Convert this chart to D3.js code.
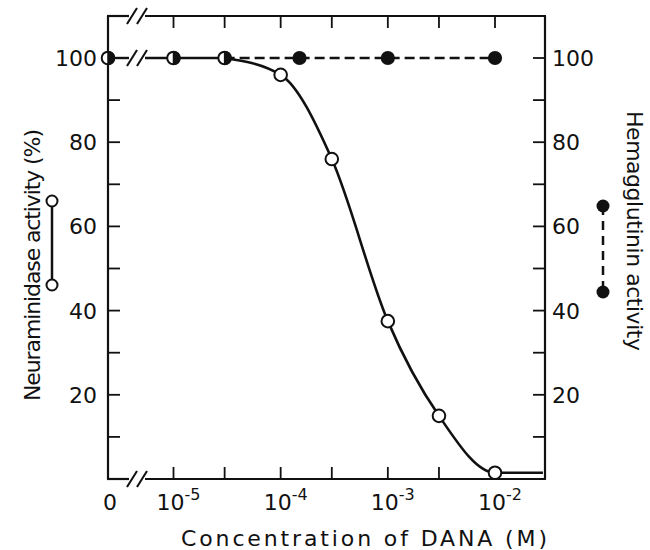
<!DOCTYPE html>
<html>
<head>
<meta charset="utf-8">
<script src="https://cdn.jsdelivr.net/npm/d3@7/dist/d3.min.js"></script>
<style>
  html, body { margin: 0; padding: 0; background: #fff; }
  svg { display: block; }
  text { font-family: "DejaVu Sans", "Liberation Sans", Arial, sans-serif; fill: #111; }
</style>
</head>
<body>
<svg id="chart" width="650" height="550"></svg>
<script>
// ---- Data ----
const neuraConc = [0, 1e-5, 3e-5, 1e-4, 3e-4, 1e-3, 3e-3, 1e-2];
const neuraActivity = [100, 100, 100, 96, 76, 37.5, 15, 1.5];
const neuraTailConc = 2.8e-2;           // end of horizontal tail of the fitted curve
const hemaConc = [0, 1e-5, 3e-5, 1.5e-4, 1e-3, 1e-2];
const hemaActivity = [100, 100, 100, 100, 100, 100];
const xTickConc = [1e-5, 3e-5, 1e-4, 3e-4, 1e-3, 3e-3, 1e-2];
const xLabelConc = [1e-5, 1e-4, 1e-3, 1e-2];
const xLabelExp = ["-5", "-4", "-3", "-2"];
const yTicks = [10, 20, 30, 40, 50, 60, 70, 80, 90, 100];
const yLabels = [20, 40, 60, 80, 100];

// ---- Layout ----
const frame = { left: 108, right: 545, top: 16, bottom: 479 };
const breakX = 137;
const ink = "#111";

const svg = d3.select("#chart");
const xLog = d3.scaleLog().domain([1e-5, 1e-2]).range([173.5, 495]);
const x = c => (c === 0 ? frame.left : xLog(c));
const y = d3.scaleLinear().domain([0, 100]).range([frame.bottom, 58]);

const g = svg.append("g");

// ---- Frame with axis breaks ----
function hline(yy, x1, x2) {
  g.append("line").attr("x1", x1).attr("x2", x2).attr("y1", yy).attr("y2", yy)
    .attr("stroke", ink).attr("stroke-width", 2.2);
}
function slashes(cx, cy) {
  [-5, 5].forEach(dx => {
    g.append("line")
      .attr("x1", cx + dx - 5).attr("y1", cy + 8)
      .attr("x2", cx + dx + 5).attr("y2", cy - 8)
      .attr("stroke", ink).attr("stroke-width", 2);
  });
}
hline(frame.top, frame.left - 1, breakX - 8);
hline(frame.top, breakX + 8, frame.right + 1);
hline(frame.bottom, frame.left - 1, breakX - 8);
hline(frame.bottom, breakX + 8, frame.right + 1);
slashes(breakX, frame.top);
slashes(breakX, frame.bottom);
g.append("line").attr("x1", frame.left).attr("x2", frame.left)
  .attr("y1", frame.top).attr("y2", frame.bottom).attr("stroke", ink).attr("stroke-width", 2.2);
g.append("line").attr("x1", frame.right).attr("x2", frame.right)
  .attr("y1", frame.top).attr("y2", frame.bottom).attr("stroke", ink).attr("stroke-width", 2.2);

// ---- Ticks (inward) ----
const tickLen = 12;
xTickConc.forEach(c => {
  g.append("line").attr("x1", xLog(c)).attr("x2", xLog(c))
    .attr("y1", frame.top).attr("y2", frame.top + tickLen).attr("stroke", ink).attr("stroke-width", 1.8);
  g.append("line").attr("x1", xLog(c)).attr("x2", xLog(c))
    .attr("y1", frame.bottom).attr("y2", frame.bottom - tickLen).attr("stroke", ink).attr("stroke-width", 1.8);
});
yTicks.forEach(v => {
  g.append("line").attr("x1", frame.left).attr("x2", frame.left + tickLen)
    .attr("y1", y(v)).attr("y2", y(v)).attr("stroke", ink).attr("stroke-width", 1.8);
  g.append("line").attr("x1", frame.right).attr("x2", frame.right - tickLen)
    .attr("y1", y(v)).attr("y2", y(v)).attr("stroke", ink).attr("stroke-width", 1.8);
});

// ---- Tick labels ----
yLabels.forEach(v => {
  g.append("text").attr("x", frame.left - 11).attr("y", y(v)).attr("dy", "0.36em")
    .attr("text-anchor", "end").attr("font-size", 22).text(v);
  g.append("text").attr("x", frame.right + 7).attr("y", y(v)).attr("dy", "0.36em")
    .attr("text-anchor", "start").attr("font-size", 22).text(v);
});
g.append("text").attr("x", frame.left + 2).attr("y", 510).attr("text-anchor", "middle")
  .attr("font-size", 22).text("0");
xLabelConc.forEach((c, i) => {
  const t = g.append("text").attr("x", xLog(c) - 17).attr("y", 510)
    .attr("text-anchor", "start").attr("font-size", 22);
  t.append("tspan").text("10");
  t.append("tspan").attr("dy", -10).attr("font-size", 16).text(xLabelExp[i]);
});

// ---- Axis titles ----
g.append("text").attr("x", 364).attr("y", 546).attr("text-anchor", "middle")
  .attr("font-size", 22).attr("textLength", 366).attr("lengthAdjust", "spacing")
  .text("Concentration of DANA (M)");
g.append("text").attr("transform", "translate(40,265) rotate(-90)")
  .attr("text-anchor", "middle").attr("font-size", 22)
  .attr("textLength", 272).attr("lengthAdjust", "spacing")
  .text("Neuraminidase activity (%)");
g.append("text").attr("transform", "translate(627,231) rotate(90)")
  .attr("text-anchor", "middle").attr("font-size", 22)
  .attr("textLength", 240).attr("lengthAdjust", "spacing")
  .text("Hemagglutinin activity");

// ---- Lines ----
const nPts = neuraConc.map((c, i) => [x(c), y(neuraActivity[i])]);
const hPts = hemaConc.map((c, i) => [x(c), y(hemaActivity[i])]);

// shared solid segment 0 -> 1e-5 (with break) -> 3e-5
g.append("line").attr("x1", nPts[0][0]).attr("y1", nPts[0][1])
  .attr("x2", breakX - 8).attr("y2", nPts[0][1]).attr("stroke", ink).attr("stroke-width", 2.4);
g.append("line").attr("x1", breakX + 8).attr("y1", nPts[0][1])
  .attr("x2", nPts[2][0]).attr("y2", nPts[2][1]).attr("stroke", ink).attr("stroke-width", 2.4);
slashes(breakX, nPts[0][1]);

// neuraminidase fitted curve from 3e-5 onwards, then horizontal tail
const curvePts = nPts.slice(2).concat([[xLog(neuraTailConc), y(neuraActivity[neuraActivity.length - 1])]]);
g.append("path").attr("d", d3.line().curve(d3.curveMonotoneX)(curvePts))
  .attr("fill", "none").attr("stroke", ink).attr("stroke-width", 2.6);

// hemagglutinin dashed line from 3e-5 onwards
g.append("path").attr("d", d3.line()(hPts.slice(2)))
  .attr("fill", "none").attr("stroke", ink).attr("stroke-width", 2.6)
  .attr("stroke-dasharray", "10,5");

// ---- Markers ----
const r = 6.3;
g.selectAll("circle.n").data(nPts).enter().append("circle")
  .attr("cx", d => d[0]).attr("cy", d => d[1]).attr("r", r)
  .attr("fill", "#fff").attr("stroke", ink).attr("stroke-width", 2);

const coincide = (c, v) => neuraConc.some((nc, i) => nc === c && neuraActivity[i] === v);
hemaConc.forEach((c, i) => {
  const cx = x(c), cy = y(hemaActivity[i]);
  if (coincide(c, hemaActivity[i])) {
    g.append("path")
      .attr("d", `M${cx},${cy - r} A${r},${r} 0 0 1 ${cx},${cy + r} Z`)
      .attr("fill", ink).attr("stroke", ink).attr("stroke-width", 1.5);
  } else {
    g.append("circle").attr("cx", cx).attr("cy", cy).attr("r", r + 0.8).attr("fill", ink);
  }
});

// ---- Legends ----
const lgL = { x: 52, y1: 201, y2: 285 };
g.append("line").attr("x1", lgL.x).attr("x2", lgL.x).attr("y1", lgL.y1).attr("y2", lgL.y2)
  .attr("stroke", ink).attr("stroke-width", 2.5);
[lgL.y1, lgL.y2].forEach(yy => g.append("circle").attr("cx", lgL.x).attr("cy", yy).attr("r", 5.5)
  .attr("fill", "#fff").attr("stroke", ink).attr("stroke-width", 2));
const lgR = { x: 603, y1: 206, y2: 292 };
g.append("line").attr("x1", lgR.x).attr("x2", lgR.x).attr("y1", lgR.y1).attr("y2", lgR.y2)
  .attr("stroke", ink).attr("stroke-width", 2.5).attr("stroke-dasharray", "9,6");
[lgR.y1, lgR.y2].forEach(yy => g.append("circle").attr("cx", lgR.x).attr("cy", yy).attr("r", 6.5)
  .attr("fill", ink));
</script>
</body>
</html>
